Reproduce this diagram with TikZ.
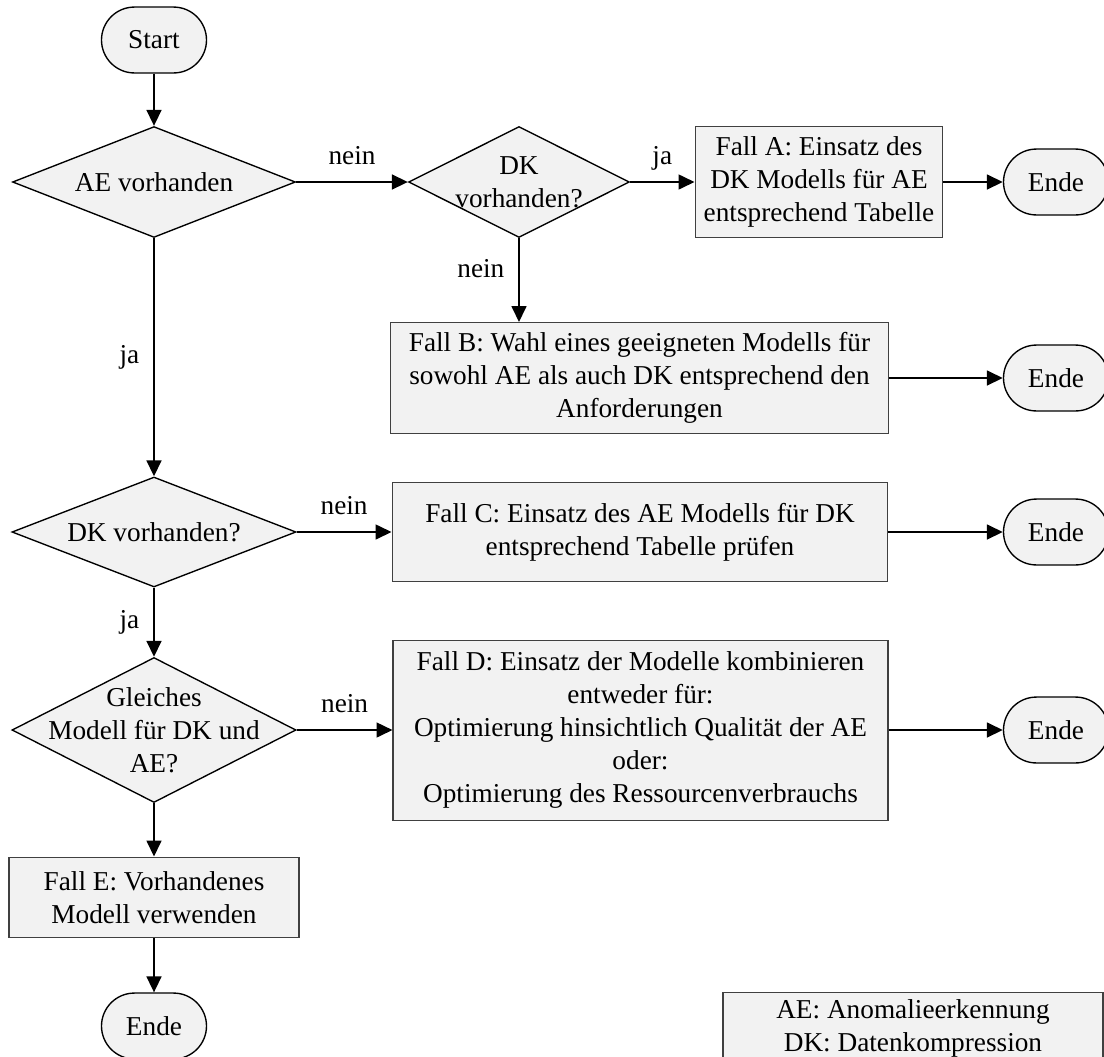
\documentclass[tikz,border=0pt]{standalone}
\usepackage{fontspec}
\setmainfont{Liberation Serif}
\usetikzlibrary{shapes.geometric, arrows.meta}

\definecolor{boxgray}{HTML}{F2F2F2}
\definecolor{framegray}{HTML}{404040}

\tikzset{
  terminal/.style={rectangle, rounded corners=14.5pt, draw, line width=0.6pt, fill=boxgray, minimum width=46.2pt, minimum height=29pt, inner sep=0pt},
  decision/.style={diamond, draw, line width=0.6pt, fill=boxgray, inner sep=0pt},
  case/.style={rectangle, draw=framegray, line width=0.45pt, fill=boxgray, align=center, inner sep=0pt},
  flow/.style={-{Triangle[length=7pt, width=6.5pt]}, line width=0.9pt},
  answer/.style={anchor=base, inner sep=0pt},
}

\begin{document}
\begin{tikzpicture}[x=0.44pt, y=-0.44pt, font=\fontsize{12}{14.5}\selectfont]
        \clip (0,0) rectangle (1104,1056);

        % main column
        \node[terminal] (start) at (154,40) {Start};
        \node[decision, minimum width=124.5pt, minimum height=48.8pt, label={[align=center]center:AE vorhanden}] (ae) at (154,182) {};
        \node[decision, minimum width=125pt, minimum height=48.4pt, label={[align=center]center:DK vorhanden?}] (dkB) at (154,532) {};
        \node[decision, minimum width=125pt, minimum height=63.8pt, label={[align=center]center:Gleiches\\Modell für DK und\\AE?}] (same) at (154,730) {};
        \node[case, minimum width=127.6pt, minimum height=35.6pt] (fallE) at (154,897.5) {Fall E: Vorhandenes\\Modell verwenden};
        \node[terminal] (endE) at (154,1026) {Ende};

        % upper branch
        \node[decision, minimum width=97.2pt, minimum height=48.8pt, label={[align=center]center:DK\\vorhanden?}] (dkA) at (519,182) {};
        \node[case, minimum width=109.1pt, minimum height=48.8pt] (fallA) at (819,182) {Fall A: Einsatz des\\DK Modells für AE\\entsprechend Tabelle};
        \node[terminal] (endA) at (1056,182) {Ende};
        \node[case, minimum width=218.7pt, minimum height=48.8pt] (fallB) at (639.5,378) {Fall B: Wahl eines geeigneten Modells für\\sowohl AE als auch DK entsprechend den\\Anforderungen};
        \node[terminal] (endB) at (1056,378) {Ende};

        % lower branches
        \node[case, minimum width=218.2pt, minimum height=43.6pt] (fallC) at (640,532) {Fall C: Einsatz des AE Modells für DK\\entsprechend Tabelle prüfen};
        \node[terminal] (endC) at (1056,532) {Ende};
        \node[case, minimum width=217.8pt, minimum height=79.2pt] (fallD) at (640.5,730) {Fall D: Einsatz der Modelle kombinieren\\entweder für:\\Optimierung hinsichtlich Qualität der AE\\oder:\\Optimierung des Ressourcenverbrauchs};
        \node[terminal] (endD) at (1056,730) {Ende};

        % legend, running off the lower edge
        \node[case, minimum width=167.2pt, minimum height=31pt] (legend) at (913,1028) {AE: Anomalieerkennung\\DK: Datenkompression};

        \draw[flow] (start) -- (ae);
        \draw[flow] (ae) -- node[answer, yshift=7.8pt] {nein} (dkA);
        \draw[flow] (dkA) -- node[answer, yshift=7.8pt] {ja} (fallA);
        \draw[flow] (fallA) -- (endA);
        \draw[flow] (dkA.south) -- node[answer, anchor=base east, xshift=-6pt, yshift=1pt] {nein} (dkA.south |- fallB.north);
        \draw[flow] (fallB) -- (endB);
        \draw[flow] (ae) -- node[answer, anchor=base east, xshift=-6pt, yshift=-2.8pt] {ja} (dkB);
        \draw[flow] (dkB) -- node[answer, yshift=7.8pt] {nein} (fallC);
        \draw[flow] (fallC) -- (endC);
        \draw[flow] (dkB) -- node[answer, anchor=base east, xshift=-6pt, yshift=-2.8pt] {ja} (same);
        \draw[flow] (same) -- node[answer, yshift=7.8pt] {nein} (fallD);
        \draw[flow] (fallD) -- (endD);
        \draw[flow] (same) -- (fallE);
        \draw[flow] (fallE) -- (endE);
\end{tikzpicture}
\end{document}
